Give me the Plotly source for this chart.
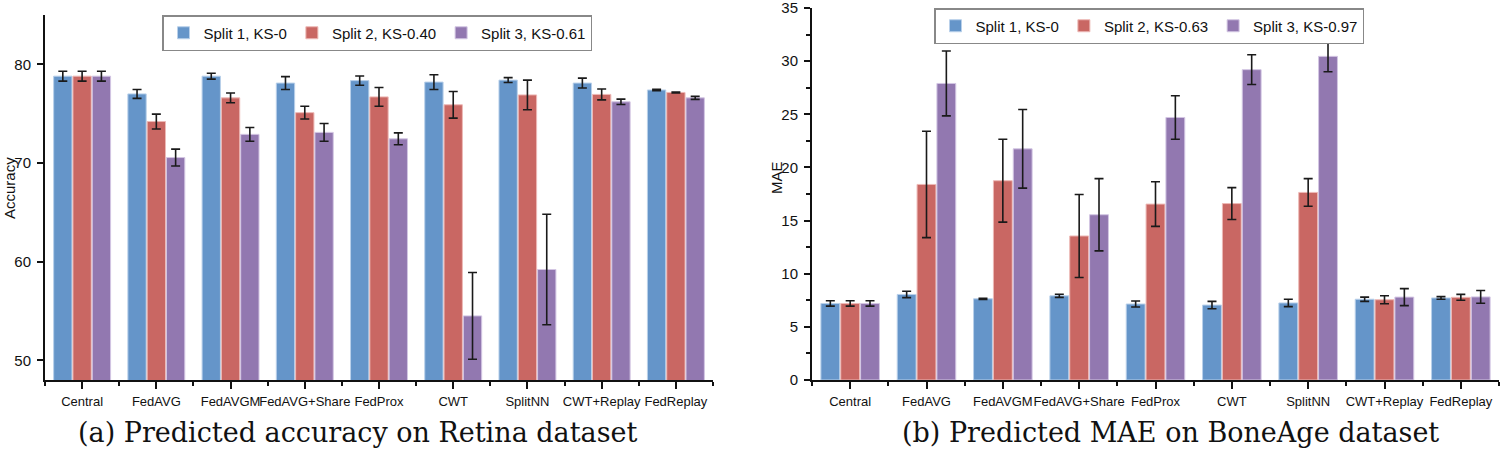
import plotly.graph_objects as go

methods = ["Central", "FedAVG", "FedAVGM", "FedAVG+Share", "FedProx", "CWT", "SplitNN", "CWT+Replay", "FedReplay"]

# (a) Accuracy on Retina
acc_names = ["Split 1, KS-0", "Split 2, KS-0.40", "Split 3, KS-0.61"]
acc_split1 = [78.8, 77.0, 78.8, 78.1, 78.35, 78.2, 78.4, 78.1, 77.4]
acc_split1_err = [0.5, 0.45, 0.3, 0.65, 0.47, 0.75, 0.25, 0.5, 0.07]
acc_split2 = [78.8, 74.2, 76.6, 75.1, 76.7, 75.9, 76.9, 76.95, 77.15]
acc_split2_err = [0.5, 0.75, 0.5, 0.65, 0.95, 1.35, 1.5, 0.55, 0.05]
acc_split3 = [78.8, 70.55, 72.9, 73.1, 72.45, 54.5, 59.2, 76.2, 76.6]
acc_split3_err = [0.5, 0.85, 0.7, 0.9, 0.6, 4.4, 5.6, 0.27, 0.15]

# (b) MAE on BoneAge
mae_names = ["Split 1, KS-0", "Split 2, KS-0.63", "Split 3, KS-0.97"]
mae_split1 = [7.2, 8.05, 7.64, 7.92, 7.15, 7.05, 7.25, 7.6, 7.72]
mae_split1_err = [0.25, 0.3, 0.05, 0.15, 0.28, 0.35, 0.35, 0.2, 0.12]
mae_split2 = [7.2, 18.4, 18.75, 13.55, 16.55, 16.6, 17.65, 7.55, 7.78]
mae_split2_err = [0.25, 5.0, 3.9, 3.9, 2.1, 1.5, 1.3, 0.37, 0.28]
mae_split3 = [7.2, 27.9, 21.75, 15.55, 24.7, 29.2, 30.45, 7.8, 7.82]
mae_split3_err = [0.25, 3.05, 3.7, 3.4, 2.05, 1.4, 1.45, 0.8, 0.6]

colors = ["#6595C9", "#C96763", "#9278B0"]
edges = ["#B9D0EA", "#EDB9B6", "#D3C6E3"]

pos = list(range(len(methods)))

fig = go.Figure()

def add_group(vals, errs, names, xa, ya, legend):
    for i, (v, e, n) in enumerate(zip(vals, errs, names)):
        fig.add_trace(go.Bar(
            x=pos, y=v, name=n, xaxis=xa, yaxis=ya, legend=legend,
            marker=dict(color=colors[i], line=dict(color=edges[i], width=1)),
            error_y=dict(type="data", array=e, visible=True, color="#1a1a1a", thickness=1.6, width=4.5),
        ))

add_group([acc_split1, acc_split2, acc_split3], [acc_split1_err, acc_split2_err, acc_split3_err], acc_names, "x", "y", "legend")
add_group([mae_split1, mae_split2, mae_split3], [mae_split1_err, mae_split2_err, mae_split3_err], mae_names, "x2", "y2", "legend2")

W, H = 1500, 454
def px(xp): return xp / W
def py(yp): return (H - yp) / H

tickfont = dict(family="Liberation Sans, Arial", size=15, color="#111")
xtickfont = dict(family="Liberation Sans, Arial", size=13, color="#111")

xcommon = dict(
    range=[-0.5, len(methods) - 0.5], tickmode="array", tickvals=pos, ticktext=methods, tickangle=0,
    showline=True, linecolor="#111", linewidth=2, ticks="outside", ticklen=7, tickwidth=1.5, tickcolor="#111",
    tickfont=xtickfont, showgrid=False, zeroline=False, ticklabelstandoff=1, ticklabeloverflow="allow", automargin=False,
    minor=dict(tickmode="array", tickvals=[p - 0.5 for p in pos] + [len(methods) - 0.5], ticks="outside", ticklen=4, tickwidth=1.5, tickcolor="#111"),
)

fig.update_layout(
    width=W, height=H, margin=dict(l=0, r=0, t=0, b=0, autoexpand=False),
    paper_bgcolor="white", plot_bgcolor="white",
    barmode="group", bargap=0.22, bargroupgap=0.05,
    showlegend=True,
    xaxis=dict(domain=[px(45), px(713)], anchor="y", **xcommon),
    yaxis=dict(domain=[py(380), py(15)], anchor="x", range=[48, 85], tickvals=[50, 60, 70, 80],
               showline=True, linecolor="#111", linewidth=2, ticks="outside", ticklen=6, tickwidth=1.5, tickcolor="#111",
               tickfont=tickfont, showgrid=False, zeroline=False, ticklabelstandoff=3, automargin=False),
    xaxis2=dict(domain=[px(812), px(1499)], anchor="y2", **xcommon),
    yaxis2=dict(domain=[py(380), py(8)], anchor="x2", range=[0, 35], tickvals=[0, 5, 10, 15, 20, 25, 30, 35],
                showline=True, linecolor="#111", linewidth=2, ticks="outside", ticklen=6, tickwidth=1.5, tickcolor="#111",
                tickfont=tickfont, showgrid=False, zeroline=False, ticklabelstandoff=3, ticklabeloverflow="allow", automargin=False,
                minor=dict(dtick=2.5, tick0=0, ticks="outside", ticklen=4, tickwidth=1.5, tickcolor="#111")),
    legend=dict(orientation="h", x=px(377), xanchor="center", y=py(15), yanchor="top",
                bordercolor="#888", borderwidth=1.5, bgcolor="white",
                font=dict(family="Liberation Sans, Arial", size=15, color="#111")),
    legend2=dict(orientation="h", x=px(1149), xanchor="center", y=py(8), yanchor="top",
                 bordercolor="#888", borderwidth=1.5, bgcolor="white",
                 font=dict(family="Liberation Sans, Arial", size=15, color="#111")),
    annotations=[
        dict(text="Accuracy", x=px(9), y=py(188), xref="paper", yref="paper", textangle=-90, showarrow=False,
             font=dict(family="Liberation Sans, Arial", size=15, color="#111"), xanchor="center", yanchor="middle"),
        dict(text="MAE", x=px(776), y=py(178), xref="paper", yref="paper", textangle=-90, showarrow=False,
             font=dict(family="Liberation Sans, Arial", size=15, color="#111"), xanchor="center", yanchor="middle"),
        dict(text="(a) Predicted accuracy on Retina dataset", x=px(357), y=py(432), xref="paper", yref="paper",
             showarrow=False, font=dict(family="DejaVu Serif, serif", size=27, color="#111"), xanchor="center", yanchor="middle"),
        dict(text="(b) Predicted MAE on BoneAge dataset", x=px(1170), y=py(432), xref="paper", yref="paper",
             showarrow=False, font=dict(family="DejaVu Serif, serif", size=27, color="#111"), xanchor="center", yanchor="middle"),
    ],
)

# remove the default 8px page margin so the figure fills the window exactly
fig.write_html("out.html", config={"displayModeBar": False},
               post_script="document.body.style.margin='0px';")
